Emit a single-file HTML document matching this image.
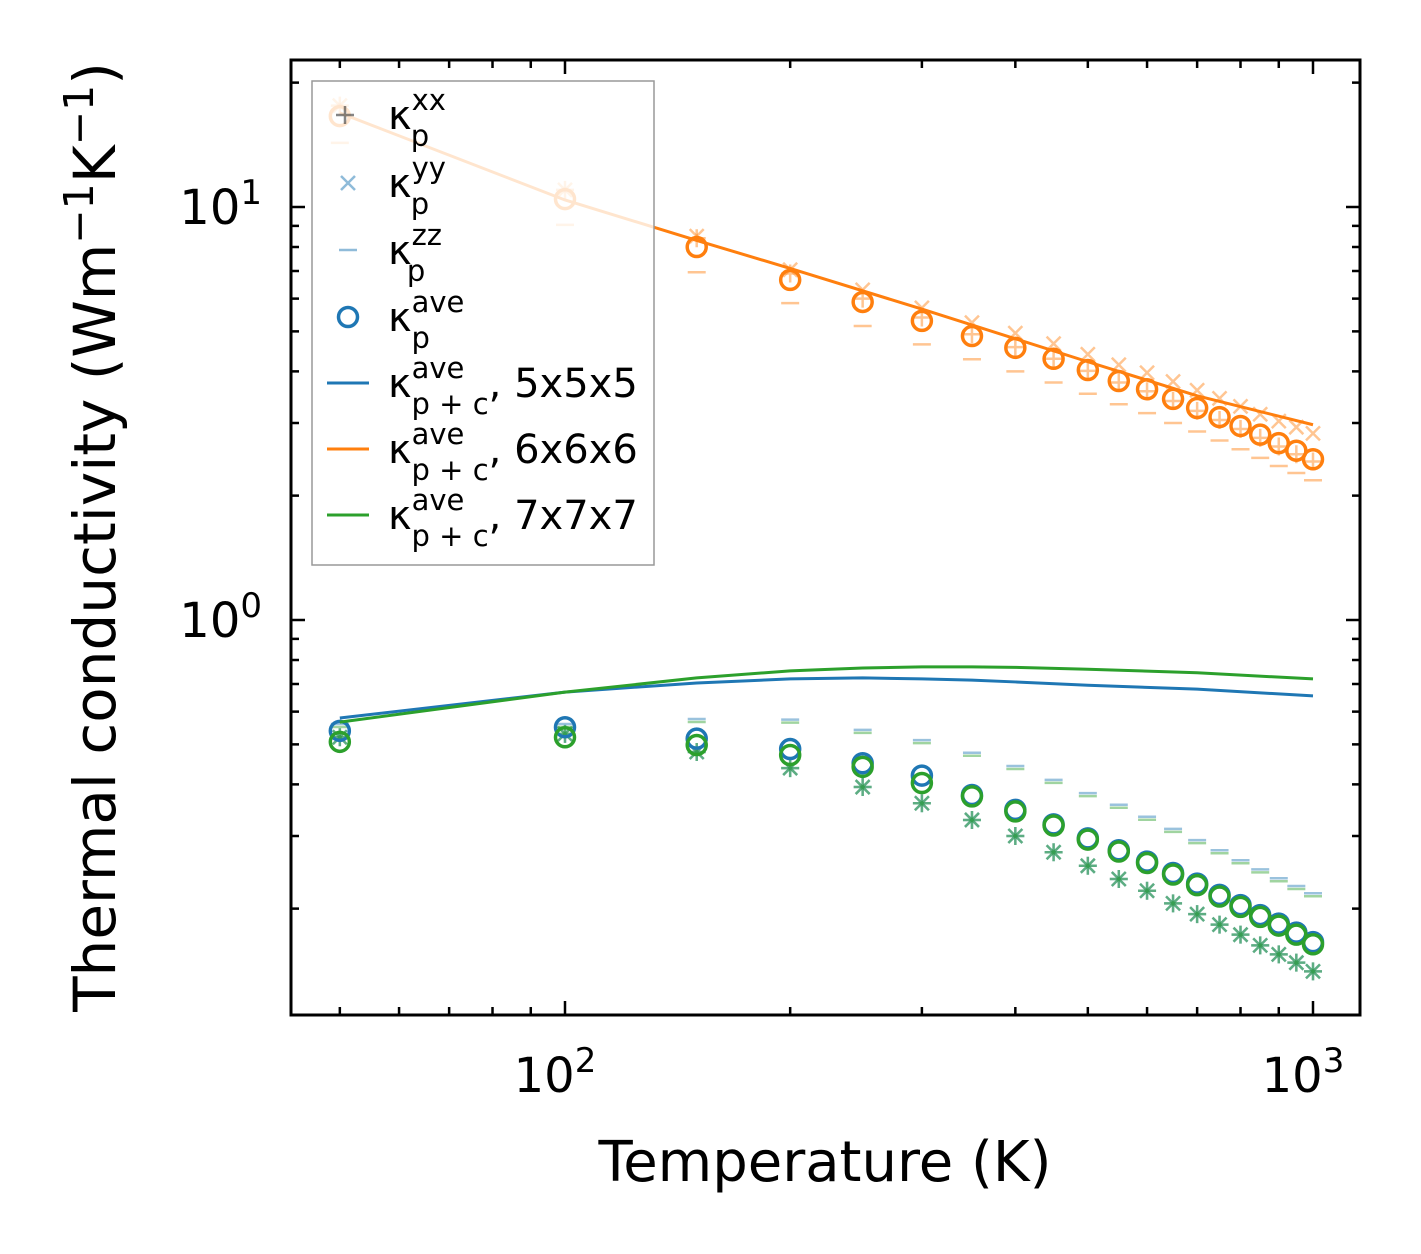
<!DOCTYPE html>
<html><head><meta charset="utf-8"><style>
body{margin:0;background:#fff}
svg{display:block;font-family:"DejaVu Sans","Liberation Sans",sans-serif}
</style></head><body>
<svg id="chart" width="1421" height="1254" viewBox="0 0 1421 1254" xmlns="http://www.w3.org/2000/svg">
<g id="plot"></g>
<text x="825" y="1181" font-size="56" text-anchor="middle">Temperature (K)</text>
<text transform="translate(115,537) rotate(-90)" font-size="58" text-anchor="middle">Thermal conductivity (Wm<tspan dy="-22" font-size="41">−1</tspan><tspan dy="22">K</tspan><tspan dy="-22" font-size="41">−1</tspan><tspan dy="22">)</tspan></text>
</svg>
<script>
const temps=[50,100,150,200,250,300,350,400,450,500,550,600,650,700,750,800,850,900,950,1000];
const orangeAve=[16.6,10.45,8.0,6.66,5.89,5.3,4.87,4.56,4.29,4.03,3.79,3.62,3.43,3.26,3.10,2.95,2.81,2.68,2.57,2.45];
const orangeXX=[17.6,11.0,8.4,6.9,6.0,5.4,4.92,4.58,4.29,4.01,3.76,3.58,3.39,3.21,3.05,2.9,2.76,2.63,2.52,2.42];
const orangeYY=[17.6,11.0,8.5,7.05,6.3,5.7,5.25,4.95,4.67,4.4,4.15,3.97,3.78,3.6,3.44,3.29,3.15,3.03,2.93,2.83];
const orangeZZ=[14.3,9.05,6.95,5.85,5.15,4.65,4.28,4.0,3.76,3.53,3.33,3.17,3.0,2.86,2.72,2.59,2.47,2.36,2.27,2.18];
const lineT=[50,100,150,200,300,500,700,1000];
const orangeLine=[16.9,10.4,8.3,7.1,5.66,4.22,3.49,2.97];
const lineT2=[50,100,150,200,250,300,350,400,500,700,1000];
const blueLine=[0.579,0.669,0.704,0.72,0.724,0.72,0.715,0.708,0.695,0.68,0.655];
const greenLine=[0.566,0.669,0.724,0.753,0.765,0.77,0.77,0.768,0.76,0.745,0.72];
const blueAve=[0.539,0.55,0.516,0.487,0.45,0.42,0.377,0.347,0.32,0.296,0.277,0.26,0.244,0.23,0.216,0.204,0.193,0.184,0.175,0.166];
const greenAve=[0.507,0.52,0.498,0.471,0.441,0.403,0.374,0.344,0.318,0.294,0.275,0.258,0.242,0.228,0.214,0.202,0.191,0.182,0.173,0.164];
const lowXX=[0.52,0.53,0.479,0.438,0.394,0.36,0.328,0.3,0.274,0.254,0.236,0.221,0.206,0.194,0.183,0.173,0.163,0.155,0.148,0.141];
const lowZZ=[0.56,0.56,0.576,0.574,0.542,0.512,0.477,0.443,0.41,0.381,0.357,0.334,0.312,0.293,0.277,0.262,0.249,0.237,0.227,0.218];
const xTicks=[100,1000];const xTickLabels=["2","3"];
const yTicks=[1,10];const yTickLabels=["0","1"];

const X=v=>565+748*(Math.log10(v)-2);
const Y=v=>620-413*Math.log10(v);
const NS="http://www.w3.org/2000/svg";
const svg=document.getElementById('chart');
const plot=document.getElementById('plot');
function mk(tag,attrs,parent){const e=document.createElementNS(NS,tag);for(const k in attrs)e.setAttribute(k,attrs[k]);(parent||plot).appendChild(e);return e;}
const OR="#ff7f0e",BL="#1f77b4",GR="#2ca02c";
function plus(x,y,c,op,name,p){let e=mk('path',{d:`M${x-9} ${y}h18M${x} ${y-9}v18`,stroke:c,'stroke-width':2.5,'stroke-opacity':op,fill:'none'},p);}
function cross(x,y,c,op,name,p){let e=mk('path',{d:`M${x-7} ${y-7}l14 14M${x-7} ${y+7}l14 -14`,stroke:c,'stroke-width':2.5,'stroke-opacity':op,fill:'none'},p);}
function dash(x,y,c,op,name,p){let e=mk('path',{d:`M${x-9} ${y}h18`,stroke:c,'stroke-width':2.5,'stroke-opacity':op},p);}
function circ(x,y,c,name,p){let e=mk('circle',{cx:x,cy:y,r:9.5,fill:'none',stroke:c,'stroke-width':3.5},p);}
function line(ts,vs,c,name){let e=mk('polyline',{points:ts.map((t,i)=>X(t)+','+Y(vs[i])).join(' '),fill:'none',stroke:c,'stroke-width':3});}

temps.forEach((t,i)=>{
 plus(X(t),Y(lowXX[i]),BL,0.5,'kappa-xx-5x5x5-point');cross(X(t),Y(lowXX[i]),BL,0.5,'kappa-yy-5x5x5-point');
 plus(X(t),Y(lowXX[i]),GR,0.5,'kappa-xx-7x7x7-point');cross(X(t),Y(lowXX[i]),GR,0.5,'kappa-yy-7x7x7-point');
 dash(X(t),Y(lowZZ[i]),BL,0.45,'kappa-zz-5x5x5-point');dash(X(t),Y(lowZZ[i])+3,GR,0.45,'kappa-zz-7x7x7-point');
});
temps.forEach((t,i)=>circ(X(t),Y(blueAve[i]),BL,'kappa-ave-5x5x5-point'));
temps.forEach((t,i)=>circ(X(t),Y(greenAve[i]),GR,'kappa-ave-7x7x7-point'));
line(lineT2,blueLine,BL,'line-5x5x5');
line(lineT2,greenLine,GR,'line-7x7x7');
temps.forEach((t,i)=>{
 plus(X(t),Y(orangeXX[i]),OR,0.45,'kappa-xx-6x6x6-point');cross(X(t),Y(orangeYY[i]),OR,0.45,'kappa-yy-6x6x6-point');
 dash(X(t),Y(orangeZZ[i]),OR,0.45,'kappa-zz-6x6x6-point');
});
temps.forEach((t,i)=>circ(X(t),Y(orangeAve[i]),OR,'kappa-ave-6x6x6-point'));
line(lineT,orangeLine,OR,'line-6x6x6');

let fr=mk('rect',{x:291,y:60,width:1069,height:955,fill:'none',stroke:'#000','stroke-width':3});

let tk='';
xTicks.forEach(v=>{const x=X(v);tk+=`M${x} 1015v-14M${x} 60v14`;});
[50,60,70,80,90,200,300,400,500,600,700,800,900].forEach(v=>{const x=X(v);tk+=`M${x} 1015v-8M${x} 60v8`;});
yTicks.forEach(v=>{const y=Y(v);tk+=`M291 ${y}h14M1360 ${y}h-14`;});
[0.2,0.3,0.4,0.5,0.6,0.7,0.8,0.9,2,3,4,5,6,7,8,9,20].forEach(v=>{const y=Y(v);tk+=`M291 ${y}h8M1360 ${y}h-8`;});
let te=mk('path',{d:tk,stroke:'#000','stroke-width':2.5});
xTicks.forEach((v,i)=>{let t=mk('text',{x:X(v)-10,y:1092,'font-size':48,'text-anchor':'middle'},svg);t.innerHTML=`10<tspan dy="-20" font-size="34">${xTickLabels[i]}</tspan>`;});
yTicks.forEach((v,i)=>{let t=mk('text',{x:262,y:Y(v)+17,'font-size':48,'text-anchor':'end'},svg);t.innerHTML=`10<tspan dy="-20" font-size="34">${yTickLabels[i]}</tspan>`;});

const lg=mk('g',{},svg);
mk('rect',{x:312,y:81,width:342,height:484,fill:'#fff','fill-opacity':0.8,stroke:'#999','stroke-width':1.5},lg);
const legendLabels=[['xx','p',''],['yy','p',''],['zz','p',''],['ave','p',''],['ave','p + c',', 5x5x5'],['ave','p + c',', 6x6x6'],['ave','p + c',', 7x7x7']];
const ly=[115,183,250,317,383,449,515];
legendLabels.forEach((l,i)=>{
 const y=ly[i];
 if(i==0){plus(345,y,'#333',0.6,'legend-marker-xx',lg);}
 if(i==1){cross(348,y,BL,0.5,'legend-marker-yy',lg);}
 if(i==2){dash(348,y,BL,0.5,'legend-marker-zz',lg);}
 if(i==3){circ(348,y,BL,'legend-marker-ave',lg);}
 if(i>=4){const c=[BL,OR,GR][i-4];let e=mk('path',{d:`M327 ${y}h42`,stroke:c,'stroke-width':3},lg);}
 let t=mk('text',{x:388,y:y+14,'font-size':40},lg);
 t.innerHTML=`κ<tspan dy="-19" font-size="29">${l[0]}</tspan><tspan dx="${-(l[0].length*17.6)}" dy="36" font-size="29">${l[1]}</tspan><tspan dy="-17">${l[2]}</tspan>`;
 
});
</script>
</body></html>
